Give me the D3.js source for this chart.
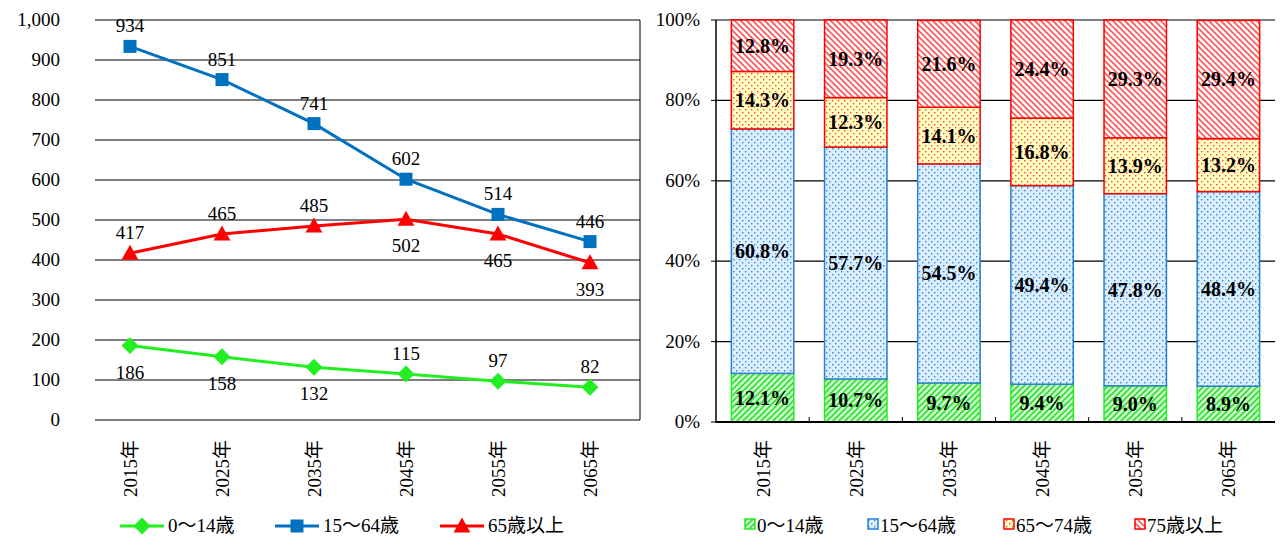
<!DOCTYPE html><html><head><meta charset="utf-8"><script src="https://cdn.jsdelivr.net/npm/d3@7"></script>
<style>body{margin:0;background:#fff}text{font-family:"Liberation Serif","Noto Sans CJK JP",serif}</style></head><body><svg id="c" width="1282" height="537"></svg><script>
const years=["2015年","2025年","2035年","2045年","2055年","2065年"];
const lineNames=["0～14歳","15～64歳","65歳以上"];
const v0_14=[186,158,132,115,97,82];
const v15_64=[934,851,741,602,514,446];
const v65=[417,465,485,502,465,393];
const barNames=["0～14歳","15～64歳","65～74歳","75歳以上"];
const p0_14=[12.1,10.7,9.7,9.4,9.0,8.9];
const p15_64=[60.8,57.7,54.5,49.4,47.8,48.4];
const p65_74=[14.3,12.3,14.1,16.8,13.9,13.2];
const p75=[12.8,19.3,21.6,24.4,29.3,29.4];
const yTicksL=d3.range(0,1001,100);
const yTicksR=[0,20,40,60,80,100];

const svg=d3.select("#c");
const defs=svg.append("defs");
function pat(id,bg,fg,type){
  const p=defs.append("pattern").attr("id",id).attr("patternUnits","userSpaceOnUse").attr("width",6).attr("height",6);
  p.append("rect").attr("width",6).attr("height",6).attr("fill",bg);
  if(type==="fwd"){p.append("path").attr("d","M-1,7L7,-1M-2,2L2,-2M4,8L8,4").attr("stroke",fg).attr("stroke-width",1.6);}
  else if(type==="back"){p.append("path").attr("d","M-1,-1L7,7M-2,4L2,8M4,-2L8,2").attr("stroke",fg).attr("stroke-width",1.6);}
  else {p.append("rect").attr("x",1).attr("y",1).attr("width",1.4).attr("height",1.4).attr("fill",fg);p.append("rect").attr("x",4).attr("y",4).attr("width",1.4).attr("height",1.4).attr("fill",fg);}
}
pat("pg","#ccffcc","#33dd33","fwd");
pat("pb","#dbeeff","#3388dd","dot");
pat("py","#ffffc0","#ff4444","dot");
pat("pr","#ffffff","#ff5555","back");

const FS=19;
// LEFT
const xL=d3.scaleBand().domain(years).range([84,636]);
const yL=d3.scaleLinear().domain([0,1000]).range([420,20]);
const gL=svg.append("g");
gL.selectAll(".g").data(yTicksL).join("line").attr("x1",95).attr("x2",640).attr("y1",d=>yL(d)).attr("y2",d=>yL(d)).attr("stroke","#000").attr("stroke-width",1.2);
gL.append("line").attr("x1",640).attr("x2",640).attr("y1",20).attr("y2",420).attr("stroke","#000");
gL.selectAll(".yt").data(yTicksL).join("text").attr("x",60).attr("y",d=>yL(d)+6).attr("text-anchor","end").attr("font-size",FS).text(d3.format(","));
gL.selectAll(".xt").data(years).join("text").attr("transform",d=>`translate(${xL(d)+xL.bandwidth()/2+7},440) rotate(-90)`).attr("text-anchor","end").attr("font-size",FS).text(d=>d);
const series=[
 {v:v0_14,c:"#22ee22",m:"d",pos:[1,1,1,-1,-1,-1]},
 {v:v15_64,c:"#0070c0",m:"s",pos:[-1,-1,-1,-1,-1,-1]},
 {v:v65,c:"#ff0000",m:"t",pos:[-1,-1,-1,1,1,1]}];
const cx=d=>xL(d)+xL.bandwidth()/2;
function marker(g,type,c,x,y,s){
  if(type==="s")g.append("rect").attr("x",x-s).attr("y",y-s).attr("width",2*s).attr("height",2*s).attr("fill",c);
  else if(type==="d")g.append("path").attr("d",`M${x},${y-s*1.3}L${x+s*1.3},${y}L${x},${y+s*1.3}L${x-s*1.3},${y}Z`).attr("fill",c);
  else g.append("path").attr("d",`M${x},${y-s*1.3}L${x+s*1.3},${y+s}L${x-s*1.3},${y+s}Z`).attr("fill",c);
}
series.forEach(s=>{
  gL.append("path").datum(s.v).attr("fill","none").attr("stroke",s.c).attr("stroke-width",3)
   .attr("d",d3.line().x((d,i)=>cx(years[i])).y(d=>yL(d)));
  s.v.forEach((d,i)=>{marker(gL,s.m,s.c,cx(years[i]),yL(d),6.5);
   gL.append("text").attr("x",cx(years[i])).attr("y",yL(d)+(s.pos[i]<0?-14:33)).attr("text-anchor","middle").attr("font-size",FS).text(d);});
});
const legL=[{x:120,t:lineNames[0],c:"#22ee22",m:"d"},{x:275,t:lineNames[1],c:"#0070c0",m:"s"},{x:440,t:lineNames[2],c:"#ff0000",m:"t"}];
legL.forEach(l=>{gL.append("line").attr("x1",l.x).attr("x2",l.x+44).attr("y1",526).attr("y2",526).attr("stroke",l.c).attr("stroke-width",3);
 marker(gL,l.m,l.c,l.x+22,526,6.5);
 gL.append("text").attr("x",l.x+48).attr("y",532).attr("font-size",FS).text(l.t);});

// RIGHT
const xR=d3.scaleBand().domain(years).range([716,1275]).paddingInner(0.33).paddingOuter(0.165);
const yR=d3.scaleLinear().domain([0,100]).range([422,20]);
const gR=svg.append("g");
gR.selectAll(".g").data(yTicksR).join("line").attr("x1",716).attr("x2",1275).attr("y1",d=>yR(d)).attr("y2",d=>yR(d)).attr("stroke","#000").attr("stroke-width",1.2);
gR.append("line").attr("x1",716).attr("x2",716).attr("y1",20).attr("y2",423).attr("stroke","#000").attr("stroke-width",1.5);
gR.selectAll(".yt").data(yTicksR).join("line").attr("x1",711).attr("x2",716).attr("y1",d=>yR(d)).attr("y2",d=>yR(d)).attr("stroke","#000");
gR.selectAll(".yt2").data(yTicksR).join("text").attr("x",700).attr("y",d=>yR(d)+6).attr("text-anchor","end").attr("font-size",FS).text(d=>d+"%");
gR.selectAll(".xtk").data(years.slice(1)).join("line").attr("x1",d=>xR(d)-xR.step()*0.165).attr("x2",d=>xR(d)-xR.step()*0.165).attr("y1",422).attr("y2",417).attr("stroke","#000");
gR.selectAll(".xt").data(years).join("text").attr("transform",d=>`translate(${xR(d)+xR.bandwidth()/2+7},440) rotate(-90)`).attr("text-anchor","end").attr("font-size",FS).text(d=>d);
const stacks=[{v:p0_14,f:"url(#pg)",s:"#22ee22"},{v:p15_64,f:"url(#pb)",s:"#2a7fd0"},{v:p65_74,f:"url(#py)",s:"#ff0000"},{v:p75,f:"url(#pr)",s:"#ff0000"}];
years.forEach((y,i)=>{let base=0;stacks.forEach(st=>{const v=st.v[i];
  gR.append("rect").attr("x",xR(y)).attr("width",xR.bandwidth()).attr("y",yR(base+v)).attr("height",yR(base)-yR(base+v)).attr("fill",st.f).attr("stroke",st.s).attr("stroke-width",1.5);
  gR.append("text").attr("x",xR(y)+xR.bandwidth()/2).attr("y",(yR(base)+yR(base+v))/2+7).attr("text-anchor","middle").attr("font-size",20).attr("font-weight","bold").text(v.toFixed(1)+"%");
  base+=v;});});
gR.append("line").attr("x1",716).attr("x2",1275).attr("y1",422).attr("y2",422).attr("stroke","#000").attr("stroke-width",2);
const legR=[{x:745,i:0},{x:868,i:1},{x:1004,i:2},{x:1135,i:3}];
legR.forEach(l=>{const st=stacks[l.i];
 gR.append("rect").attr("x",l.x).attr("y",519).attr("width",10).attr("height",10).attr("fill",st.f).attr("stroke",st.s).attr("stroke-width",1.5);
 gR.append("text").attr("x",l.x+12).attr("y",532).attr("font-size",FS).text(barNames[l.i]);});
</script></body></html>
